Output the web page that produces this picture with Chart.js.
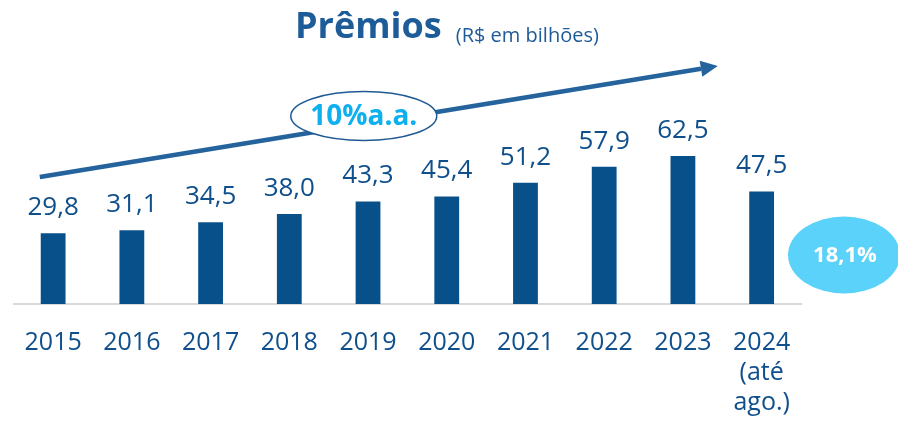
<!DOCTYPE html>
<html>
<head>
<meta charset="utf-8">
<script src="https://cdn.jsdelivr.net/npm/chart.js@4.4.1/dist/chart.umd.min.js"></script>
<style>
  html, body { margin: 0; padding: 0; background: #ffffff; }
  #wrap { width: 898px; height: 422px; position: relative; }
</style>
</head>
<body>
<div id="wrap"><canvas id="c" width="898" height="422"></canvas></div>
<script>
const categories = [
  ['2015'], ['2016'], ['2017'], ['2018'], ['2019'],
  ['2020'], ['2021'], ['2022'], ['2023'], ['2024', '(até', 'ago.)']
];
const premios = [29.8, 31.1, 34.5, 38.0, 43.3, 45.4, 51.2, 57.9, 62.5, 47.5];
const titleMain = 'Prêmios';
const titleSub = '(R$ em bilhões)';
const growthLabel = '10%a.a.';
const ytdLabel = '18,1%';

const FONT = "'Open Sans', 'Noto Sans', sans-serif";
const BAR = '#08508a';
const TEXT = '#0f4f8c';

function fmt(v) { return v.toFixed(1).replace('.', ','); }

const decor = {
  id: 'decor',
  afterDatasetsDraw(chart) {
    const ctx = chart.ctx;
    const a = chart.chartArea;
    const meta = chart.getDatasetMeta(0);
    ctx.save();
    // value labels
    ctx.fillStyle = TEXT;
    ctx.font = '26px ' + FONT;
    ctx.textAlign = 'center';
    ctx.textBaseline = 'alphabetic';
    meta.data.forEach((bar, i) => {
      ctx.fillText(fmt(premios[i]), bar.x, bar.y - 18);
    });

    // growth arrow
    const x0 = a.left + 26, y0 = a.top + 110;
    const x1 = a.left + 704, y1 = a.top - 1;
    const ang = Math.atan2(y1 - y0, x1 - x0);
    const headLen = 17, headW = 8;
    const bx = x1 - headLen * Math.cos(ang), by = y1 - headLen * Math.sin(ang);
    ctx.strokeStyle = '#24639c';
    ctx.lineWidth = 4.5;
    ctx.beginPath();
    ctx.moveTo(x0, y0);
    ctx.lineTo(bx, by);
    ctx.stroke();
    ctx.fillStyle = '#24639c';
    ctx.beginPath();
    ctx.moveTo(x1, y1);
    ctx.lineTo(bx + headW * Math.sin(ang), by - headW * Math.cos(ang));
    ctx.lineTo(bx - headW * Math.sin(ang), by + headW * Math.cos(ang));
    ctx.closePath();
    ctx.fill();

    // 10% ellipse
    const ex = a.left + 350, ey = a.top + 49;
    ctx.beginPath();
    ctx.ellipse(ex, ey, 73, 24.5, 0, 0, Math.PI * 2);
    ctx.fillStyle = '#ffffff';
    ctx.fill();
    ctx.lineWidth = 1.5;
    ctx.strokeStyle = '#1f5a94';
    ctx.stroke();
    ctx.fillStyle = '#0fb0ee';
    ctx.font = 'bold 28px ' + FONT;
    ctx.textBaseline = 'middle';
    ctx.fillText(growthLabel, ex, ey + 1);

    // 18,1% ellipse
    const fx = a.right + 43, fy = a.top + 188;
    ctx.beginPath();
    ctx.ellipse(fx, fy, 56, 38.5, 0, 0, Math.PI * 2);
    ctx.fillStyle = '#5bd2fa';
    ctx.fill();
    ctx.fillStyle = '#ffffff';
    ctx.font = 'bold 22px ' + FONT;
    ctx.fillText(ytdLabel, fx + 1, fy + 1);

    // title
    ctx.textAlign = 'left';
    ctx.textBaseline = 'alphabetic';
    ctx.fillStyle = '#1d5b99';
    ctx.font = 'bold 36px ' + FONT;
    ctx.fillText(titleMain, 295, 38);
    const w = ctx.measureText(titleMain).width;
    ctx.font = '20px ' + FONT;
    ctx.fillText(titleSub, 295 + w + 14, 42);
    ctx.restore();
  }
};

new Chart(document.getElementById('c'), {
  type: 'bar',
  data: {
    labels: categories,
    datasets: [{
      data: premios,
      backgroundColor: BAR,
      borderWidth: 0,
      barPercentage: 0.63,
      categoryPercentage: 0.5
    }]
  },
  options: {
    responsive: false,
    animation: false,
    layout: { padding: { left: 11, right: 97, top: 67, bottom: -20 } },
    plugins: { legend: { display: false }, tooltip: { enabled: false }, title: { display: false } },
    scales: {
      x: {
        grid: { display: false, drawTicks: false },
        border: { display: true, color: '#d9d9d9', width: 2 },
        ticks: {
          color: TEXT,
          font: { family: FONT, size: 25, lineHeight: 1.2 },
          padding: 24,
          maxRotation: 0,
          autoSkip: false
        }
      },
      y: { display: false, min: 0, max: 100 }
    }
  },
  plugins: [decor]
});
</script>
</body>
</html>
